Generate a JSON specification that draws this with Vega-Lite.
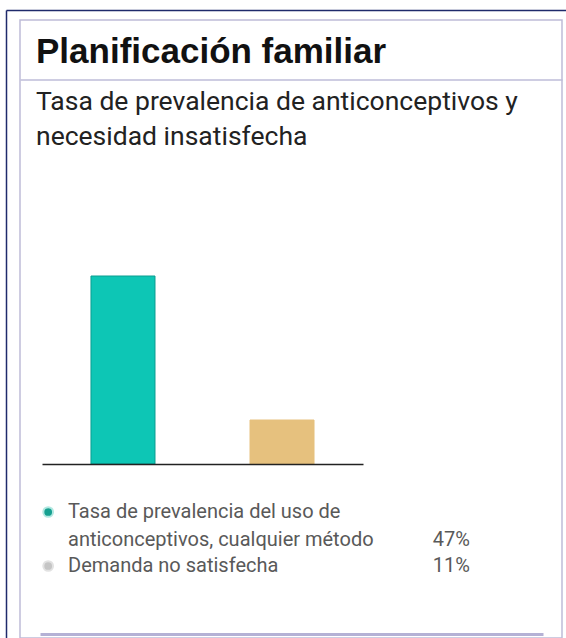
{
  "$schema": "https://vega.github.io/schema/vega-lite/v6.json",
  "width": 542,
  "height": 618,
  "autosize": "none",
  "padding": {"left": 20, "top": 20, "right": 4, "bottom": 0},
  "background": "white",
  "config": {
    "font": "Roboto",
    "view": {"stroke": "#bebcd8", "strokeWidth": 1.5}
  },
  "title": {
    "text": "Planificación familiar",
    "subtitle": ["Tasa de prevalencia de anticonceptivos y", "necesidad insatisfecha"],
    "anchor": "start",
    "frame": "group",
    "orient": "top",
    "offset": -140,
    "dx": 16,
    "font": "Liberation Sans",
    "fontSize": 35,
    "fontWeight": "bold",
    "color": "#111111",
    "subtitleFont": "Roboto",
    "subtitleFontSize": 26.5,
    "subtitleColor": "#222222",
    "subtitleLineHeight": 35,
    "subtitlePadding": 19
  },
  "data": {
    "values": [
      {"serie": "Tasa de prevalencia del uso de anticonceptivos, cualquier método", "etiqueta": ["Tasa de prevalencia del uso de", "anticonceptivos, cualquier método"], "valor": 0.47},
      {"serie": "Demanda no satisfecha", "etiqueta": ["Demanda no satisfecha"], "valor": 0.11}
    ]
  },
  "layer": [
    {
      "mark": {"type": "bar", "strokeWidth": 1},
      "encoding": {
        "x": {
          "field": "serie", "type": "nominal", "sort": null,
          "scale": {"range": [22, 343], "paddingInner": 0.5975, "paddingOuter": 0.308},
          "axis": {"orient": "bottom", "offset": -174, "domainColor": "#222222", "domainWidth": 1.5, "labels": false, "ticks": false, "grid": false, "title": null, "zindex": 1}
        },
        "y": {
          "field": "valor", "type": "quantitative",
          "scale": {"domain": [-0.435, 1.135], "range": [618, -10], "nice": false, "zero": true},
          "axis": {"orient": "left", "offset": 14, "domainColor": "#1f2a6b", "domainWidth": 1.5, "labels": false, "ticks": false, "grid": false, "title": null}
        },
        "color": {
          "field": "serie", "type": "nominal", "sort": null,
          "scale": {"range": ["#0dc6b5", "#e6c17e"]},
          "legend": null
        },
        "stroke": {
          "field": "serie", "type": "nominal", "sort": null,
          "scale": {"range": ["#0a9d90", "#e6c17e"]},
          "legend": null
        }
      }
    },
    {
      "mark": {"type": "point", "filled": true, "size": 95, "opacity": 1, "strokeWidth": 2},
      "encoding": {
        "x": {
          "datum": 5.2, "type": "quantitative",
          "scale": {"domain": [0, 100]},
          "axis": {"orient": "top", "offset": -59.5, "domainColor": "#bebcd8", "domainWidth": 1.5, "labels": false, "ticks": false, "grid": false, "title": null}
        },
        "y": {
          "field": "serie", "type": "nominal", "sort": null,
          "scale": {"type": "point", "range": [492, 546], "padding": 0},
          "axis": null
        },
        "fill": {
          "field": "serie", "type": "nominal", "sort": null,
          "scale": {"range": ["#16a090", "#c5c5c5"]},
          "legend": null
        },
        "stroke": {
          "field": "serie", "type": "nominal", "sort": null,
          "scale": {"range": ["#b2e8e1", "#e2e2e2"]},
          "legend": null
        }
      }
    },
    {
      "mark": {"type": "text", "align": "left", "baseline": "middle", "fontSize": 20, "color": "#595959", "lineHeight": 28},
      "encoding": {
        "x": {
          "datum": 5.57, "type": "quantitative",
          "scale": {"domain": [0, 100], "range": [20, 523]},
          "axis": {"orient": "bottom", "offset": -4, "domainColor": "#b4b1d5", "domainWidth": 3, "labels": false, "ticks": false, "grid": false, "title": null}
        },
        "y": {
          "field": "serie", "type": "nominal", "sort": null,
          "scale": {"type": "point", "range": [492, 546], "padding": 0},
          "axis": null
        },
        "text": {"field": "etiqueta"}
      }
    },
    {
      "mark": {"type": "text", "align": "right", "baseline": "middle", "fontSize": 20, "color": "#595959"},
      "encoding": {
        "x": {
          "datum": 82.857, "type": "quantitative",
          "scale": {"domain": [0, 100], "range": [-14, 546]},
          "axis": {"orient": "top", "offset": 10, "domainColor": "#1f2a6b", "domainWidth": 1.5, "labels": false, "ticks": false, "grid": false, "title": null}
        },
        "y": {
          "field": "serie", "type": "nominal", "sort": null,
          "scale": {"type": "point", "range": [520, 546], "padding": 0},
          "axis": null
        },
        "text": {"field": "valor", "type": "quantitative", "format": ".0%"}
      }
    }
  ],
  "resolve": {
    "scale": {"x": "independent", "y": "independent", "color": "independent", "fill": "independent", "stroke": "independent"},
    "axis": {"x": "independent", "y": "independent"}
  }
}
